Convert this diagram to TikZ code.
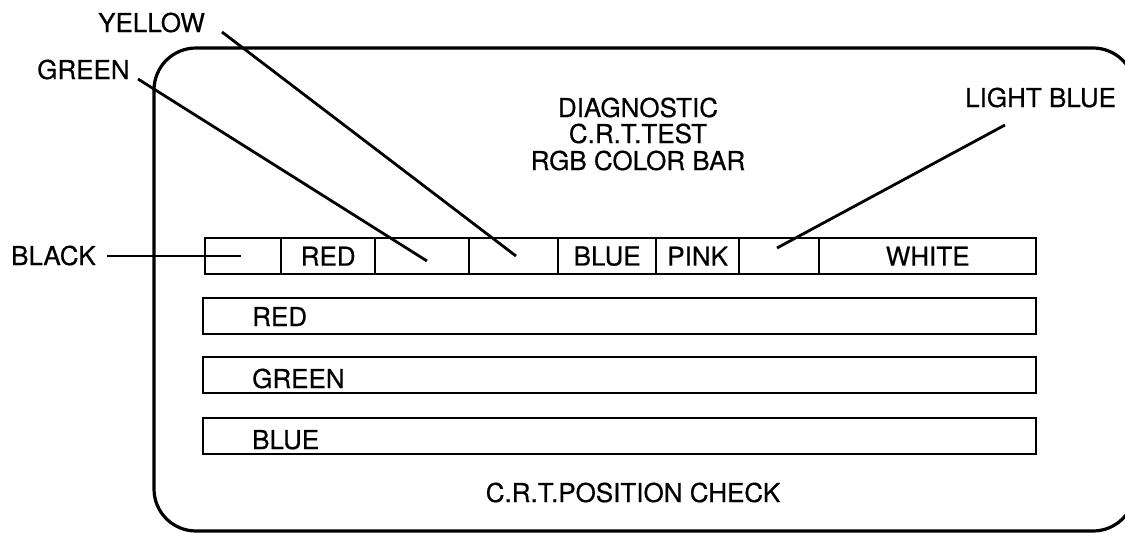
\documentclass[tikz,border=0pt]{standalone}
\usepackage{fontspec}
\setmainfont[FakeBold=0.5]{TeX Gyre Heros}
\begin{document}
\begin{tikzpicture}[x=1pt,y=-1pt,
  lbl/.style={font=\fontsize{26}{31}\selectfont, inner sep=0pt},
  cell/.style={draw, line width=2.4pt, inner sep=0pt, minimum height=36pt, anchor=north west, font=\fontsize{26}{31}\selectfont},
  bar/.style={draw, line width=2.4pt, inner sep=0pt, minimum height=36pt, minimum width=833pt, anchor=north west},
  leader/.style={line width=2.8pt},
  frame/.style={line width=3.2pt, rounded corners=42pt}]
\useasboundingbox (0,0) rectangle (1125,533);
% outer screen frame
\draw[frame] (154,48) rectangle (1135,531);
% title
\node[lbl, anchor=base] (t1) at (638,117) {DIAGNOSTIC};
\node[lbl, anchor=base] (t2) at (638,143) {C.R.T.TEST};
\node[lbl, anchor=base] (t3) at (638,170) {RGB COLOR BAR};
% colour bar cells
\node[cell, minimum width=76pt] (c1) at (204,237) {};
\node[cell, minimum width=94pt] (c2) at (280,237) {RED};
\node[cell, minimum width=94pt] (c3) at (374,237) {};
\node[cell, minimum width=89pt] (c4) at (468,237) {};
\node[cell, minimum width=98pt] (c5) at (557,237) {BLUE};
\node[cell, minimum width=83pt] (c6) at (655,237) {PINK};
\node[cell, minimum width=80pt] (c7) at (738,237) {};
\node[cell, minimum width=217pt] (c8) at (818,237) {WHITE};
% full bars
\node[bar] (rbar) at (202,297) {};
\node[bar] (gbar) at (202,356) {};
\node[bar] (bbar) at (202,417) {};
\node[lbl, anchor=base west] (rtxt) at (252,326) {RED};
\node[lbl, anchor=base west] (gtxt) at (252,388) {GREEN};
\node[lbl, anchor=base west] (btxt) at (252,449) {BLUE};
% bottom caption
\node[lbl, anchor=base] (pos) at (633,502) {C.R.T.POSITION CHECK};
% external labels
\node[lbl, anchor=base west] (ylab) at (98,32) {YELLOW};
\node[lbl, anchor=base west] (glab) at (37,79) {GREEN};
\node[lbl, anchor=base west] (klab) at (11,265) {BLACK};
\node[lbl, anchor=base west] (llab) at (965,107) {LIGHT BLUE};
% leader end points
\coordinate (yA) at (222,32);
\coordinate (yB) at (516,256);
\coordinate (gA) at (138,79);
\coordinate (gB) at (427,261);
\coordinate (kA) at (107,256);
\coordinate (kB) at (241,256);
\coordinate (lA) at (1005,125);
\coordinate (lB) at (777,248);
\draw[leader] (yA) -- (yB);
\draw[leader] (gA) -- (gB);
\draw[leader] (kA) -- (kB);
\draw[leader] (lA) -- (lB);
\end{tikzpicture}
\end{document}
